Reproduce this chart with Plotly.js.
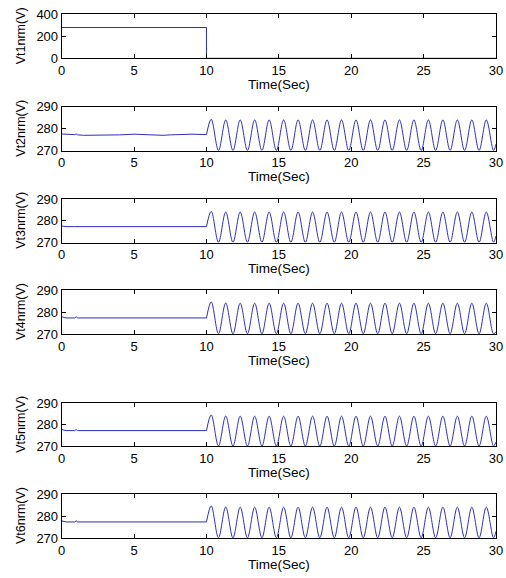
<!DOCTYPE html>
<html>
<head>
<meta charset="utf-8">
<script src="https://cdn.plot.ly/plotly-3.0.1.min.js"></script>
<style>html,body{margin:0;padding:0;background:#fff;}#chart{width:506px;height:578px;}</style>
</head>
<body>
<div id="chart"></div>
<script>
// ---- data ----
const yTitles = ["Vt1nrm(V)", "Vt2nrm(V)", "Vt3nrm(V)", "Vt4nrm(V)", "Vt5nrm(V)", "Vt6nrm(V)"];
const xTitle = "Time(Sec)";

// Vt1: step from ~280 V down to 0 at t = 10 s
const t1 = [0, 10, 10, 30];
const v1 = [280, 280, 0, 0];

// pre-disturbance samples (0..10 s) for Vt2..Vt6
const tPre = [0, 0.3, 0.9, 1.0, 1.1, 1.5, 2.5, 4.0, 5.0, 6.0, 7.0, 7.5, 8.0, 9.0, 10.0];
const v2Pre = [277.6, 277.4, 277.3, 277.6, 277.2, 277.0, 277.0, 277.2, 277.5, 277.2, 277.0, 277.2, 277.3, 277.5, 277.3];
const v3Pre = [277.6, 277.3, 277.3, 277.3, 277.3, 277.3, 277.3, 277.3, 277.3, 277.3, 277.3, 277.3, 277.3, 277.3, 277.3];
const v4Pre = [277.8, 277.3, 277.3, 277.9, 277.3, 277.3, 277.3, 277.6, 277.6, 277.3, 277.3, 277.3, 277.3, 277.5, 277.3];
const v5Pre = [277.8, 277.3, 277.3, 277.8, 277.3, 277.3, 277.3, 277.6, 277.6, 277.3, 277.3, 277.3, 277.3, 277.5, 277.3];
const v6Pre = [277.8, 277.3, 277.3, 277.8, 277.3, 277.3, 277.3, 277.6, 277.6, 277.3, 277.3, 277.3, 277.3, 277.5, 277.3];

// oscillation after 10 s: start, then peak / trough instants
const tOsc = [10.0, 10.33, 10.83, 11.33, 11.83, 12.33, 12.83, 13.33, 13.83, 14.33, 14.83,
              15.33, 15.83, 16.33, 16.83, 17.33, 17.83, 18.33, 18.83, 19.33, 19.83,
              20.33, 20.83, 21.33, 21.83, 22.33, 22.83, 23.33, 23.83, 24.33, 24.83,
              25.33, 25.83, 26.33, 26.83, 27.33, 27.83, 28.33, 28.83, 29.33, 29.83, 30.0];
const v2Osc = [277.3, 284.3, 270.1, 284.0, 270.1, 284.0, 270.1, 284.0, 270.1, 284.0, 270.1,
               284.0, 270.1, 284.0, 270.1, 284.0, 270.1, 284.0, 270.1, 284.0, 270.1,
               284.0, 270.1, 284.0, 270.1, 284.0, 270.1, 284.0, 270.1, 284.0, 270.1,
               284.0, 270.1, 284.0, 270.1, 284.0, 270.1, 284.0, 270.1, 284.0, 270.1, 273.0];
const v3Osc = [277.3, 284.3, 270.1, 284.0, 270.1, 284.0, 270.1, 284.0, 270.1, 284.0, 270.1,
               284.0, 270.1, 284.0, 270.1, 284.0, 270.1, 284.0, 270.1, 284.0, 270.1,
               284.0, 270.1, 284.0, 270.1, 284.0, 270.1, 284.0, 270.1, 284.0, 270.1,
               284.0, 270.1, 284.0, 270.1, 284.0, 270.1, 284.0, 270.1, 284.0, 270.1, 273.0];
const v4Osc = [277.3, 284.6, 270.1, 284.1, 270.1, 284.0, 270.1, 284.0, 270.1, 284.0, 270.1,
               284.0, 270.1, 284.0, 270.1, 284.0, 270.1, 284.0, 270.1, 284.0, 270.1,
               284.0, 270.1, 284.0, 270.1, 284.0, 270.1, 284.0, 270.1, 284.0, 270.1,
               284.0, 270.1, 284.0, 270.1, 284.0, 270.1, 284.0, 270.1, 284.0, 270.1, 271.0];
const v5Osc = [277.3, 284.6, 270.1, 284.1, 270.1, 284.0, 270.1, 284.0, 270.1, 284.0, 270.1,
               284.0, 270.1, 284.0, 270.1, 284.0, 270.1, 284.0, 270.1, 284.0, 270.1,
               284.0, 270.1, 284.0, 270.1, 284.0, 270.1, 284.0, 270.1, 284.0, 270.1,
               284.0, 270.1, 284.0, 270.1, 284.0, 270.1, 284.0, 270.1, 284.0, 270.1, 272.0];
const v6Osc = [277.3, 284.6, 270.1, 284.1, 270.1, 284.0, 270.1, 284.0, 270.1, 284.0, 270.1,
               284.0, 270.1, 284.0, 270.1, 284.0, 270.1, 284.0, 270.1, 284.0, 270.1,
               284.0, 270.1, 284.0, 270.1, 284.0, 270.1, 284.0, 270.1, 284.0, 270.1,
               284.0, 270.1, 284.0, 270.1, 284.0, 270.1, 284.0, 270.1, 284.0, 270.1, 273.0];

const yRanges = [[0, 400], [270, 290], [270, 290], [270, 290], [270, 290], [270, 290]];
const yTicks = [[0, 200, 400], [270, 280, 290], [270, 280, 290], [270, 280, 290], [270, 280, 290], [270, 280, 290]];
const xTicks = [0, 5, 10, 15, 20, 25, 30];

// ---- build traces ----
const W = 506, H = 578;
const lineColor = "#2e2eb8";
const pre = [null, v2Pre, v3Pre, v4Pre, v5Pre, v6Pre];
const osc = [null, v2Osc, v3Osc, v4Osc, v5Osc, v6Osc];
// plot box tops / bottoms in pixels (from top of page)
const boxes = [[14.3, 58.3], [106.7, 150.7], [199, 242.5], [290, 334], [403.3, 446.3], [494, 538]];
const xDom = [61.7 / W, 496 / W];

const narrow = "Liberation Sans Narrow, Arial Narrow, Liberation Sans, Arial, sans-serif";
const regular = "Liberation Sans, Arial, sans-serif";

const traces = [];
const annotations = [];
const layout = {
  width: W, height: H,
  margin: {l: 0, r: 0, t: 0, b: 0},
  paper_bgcolor: "#fff", plot_bgcolor: "#fff",
  showlegend: false
};
for (let i = 0; i < 6; i++) {
  const n = i === 0 ? "" : String(i + 1);
  const ax = {xaxis: "x" + n, yaxis: "y" + n, hoverinfo: "skip", type: "scatter", mode: "lines"};
  if (i === 0) {
    traces.push(Object.assign({x: t1, y: v1, line: {color: lineColor, width: 1}}, ax));
  } else {
    traces.push(Object.assign({x: tPre, y: pre[i], line: {color: lineColor, width: 1}}, ax));
    traces.push(Object.assign({x: tOsc, y: osc[i], line: {color: lineColor, width: 1, shape: "spline", smoothing: 1}}, ax));
  }
  const common = {
    showline: true, linecolor: "#000", linewidth: 1, mirror: "ticks",
    ticks: "inside", ticklen: 4, tickcolor: "#000", tickwidth: 1,
    showgrid: false, zeroline: false, automargin: false,
    tickfont: {family: narrow, size: 13, color: "#000"}
  };
  layout["xaxis" + n] = Object.assign({}, common, {
    domain: xDom, anchor: "y" + n, range: [0, 30],
    tickvals: xTicks, ticktext: xTicks.map(String)
  });
  layout["yaxis" + n] = Object.assign({}, common, {
    domain: [1 - boxes[i][1] / H, 1 - boxes[i][0] / H], anchor: "x" + n,
    range: yRanges[i], tickvals: yTicks[i], ticktext: yTicks[i].map(String)
  });
  // axis titles as paper annotations for exact placement
  annotations.push({
    text: xTitle, xref: "paper", yref: "paper", showarrow: false,
    x: (xDom[0] + xDom[1]) / 2, y: 1 - (boxes[i][1] + 26) / H,
    xanchor: "center", yanchor: "middle", borderpad: 0,
    font: {family: narrow, size: 13.5, color: "#000"}
  });
  annotations.push({
    text: yTitles[i], xref: "paper", yref: "paper", showarrow: false, textangle: -90,
    x: 21 / W, y: 1 - (boxes[i][0] + boxes[i][1]) / 2 / H,
    xanchor: "center", yanchor: "middle", borderpad: 0,
    font: {family: regular, size: 12.5, color: "#000"}
  });
}
layout.annotations = annotations;

Plotly.newPlot("chart", traces, layout, {staticPlot: true, displayModeBar: false});
</script>
</body>
</html>
